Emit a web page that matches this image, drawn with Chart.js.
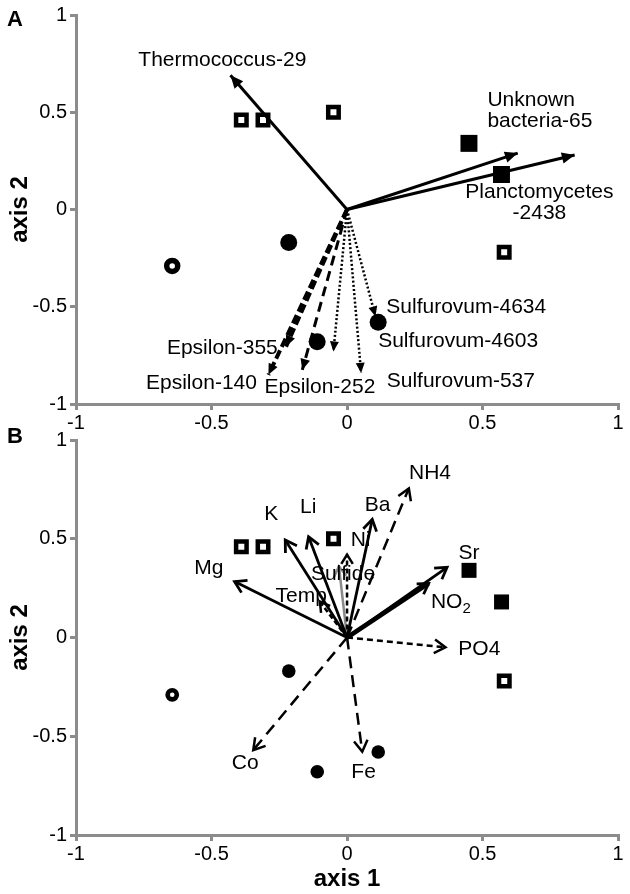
<!DOCTYPE html>
<html>
<head>
<meta charset="utf-8">
<script src="https://cdn.jsdelivr.net/npm/chart.js@4.4.1/dist/chart.umd.min.js"></script>
<style>
    html, body { margin: 0; padding: 0; background: #fff; }
    #wrap { position: relative; width: 630px; height: 894px; overflow: hidden; }
    #chartA { position: absolute; left: 0; top: 0; }
    #chartB { position: absolute; left: 0; top: 425px; }
</style>
</head>
<body>
<div id="wrap">
    <canvas id="chartA" width="630" height="440"></canvas>
    <canvas id="chartB" width="630" height="469"></canvas>
</div>
<script>
// ---- data ----
const axisTicks = [-1, -0.5, 0, 0.5, 1];

// sample scores (same ordination in both panels)
const openSquareX = [-0.39, -0.31, -0.05, 0.58];
const openSquareY = [0.46, 0.46, 0.50, -0.22];
const filledSquareX = [0.45, 0.57];
const filledSquareY = [0.34, 0.18];
const filledCircleX = [-0.215, 0.115, -0.11];
const filledCircleY = [-0.17, -0.58, -0.68];
const openCircleX = [-0.645];
const openCircleY = [-0.29];

// panel A: taxa vectors
const taxaNames = ['Thermococcus-29', 'Unknown\nbacteria-65', 'Planctomycetes\n-2438', 'Epsilon-355', 'Epsilon-140',
    'Epsilon-252', 'Sulfurovum-4634', 'Sulfurovum-4603', 'Sulfurovum-537'];
const taxaX = [-0.43, 0.63, 0.84, -0.225, -0.29, -0.165, 0.105, -0.05, 0.052];
const taxaY = [0.69, 0.29, 0.28, -0.705, -0.85, -0.825, -0.55, -0.73, -0.84];
const taxaLabelX = [-0.46, 0.518, 0.71, -0.46, -0.537, -0.10, 0.44, 0.41, 0.42];
const taxaLabelY = [0.769, 0.506, 0.033, -0.712, -0.892, -0.913, -0.50, -0.676, -0.882];

// panel B: environmental vectors
const envNames = ['Mg', 'K', 'Li', 'Ba', 'NH4', 'Sr', 'NO_2', 'PO4', 'Co', 'Fe', 'Ni', 'Sulfide', 'Temp'];
const envX = [-0.415, -0.228, -0.142, 0.093, 0.228, 0.369, 0.301, 0.363, -0.346, 0.056, 0.0, -0.03, -0.10];
const envY = [0.283, 0.494, 0.51, 0.598, 0.755, 0.355, 0.274, -0.05, -0.57, -0.578, 0.42, 0.36, 0.18];
const envLabelX = [-0.51, -0.28, -0.143, 0.113, 0.306, 0.45, 0.383, 0.488, -0.376, 0.061, 0.05, -0.015, -0.169];
const envLabelY = [0.353, 0.625, 0.662, 0.671, 0.834, 0.429, 0.181, -0.06, -0.637, -0.68, 0.494, 0.322, 0.207];

// ---- styles ----
const axisGray = '#8c8c8c';
const fontFamily = '"Liberation Sans", Arial, sans-serif';
const SOLID = [], DASH = [9, 4], DASH2 = [10, 6], DOT = [2, 2.2], LONG = [12, 7], SHORT = [6, 4];

const taxaStyles = [
    { color: '#000', width: 3, dash: SOLID, head: 'filled', size: 14 },
    { color: '#000', width: 3, dash: SOLID, head: 'filled', size: 14 },
    { color: '#000', width: 3, dash: SOLID, head: 'filled', size: 14 },
    { color: '#000', width: 4, dash: DASH, head: 'filled', size: 12 },
    { color: '#000', width: 4, dash: DASH, head: 'filled', size: 12 },
    { color: '#000', width: 3, dash: DASH2, head: 'filled', size: 12 },
    { color: '#000', width: 2.5, dash: DOT, head: 'filled', size: 11 },
    { color: '#000', width: 2.5, dash: DOT, head: 'filled', size: 11 },
    { color: '#000', width: 2.5, dash: DOT, head: 'filled', size: 11 }
];
const taxaAlign = ['center', 'left', 'center', 'center', 'center', 'center', 'center', 'center', 'center'];

const envStyles = [
    { color: '#000', width: 2.8, dash: SOLID, head: 'open', size: 13 },   // Mg
    { color: '#000', width: 2.8, dash: SOLID, head: 'open', size: 13 },   // K
    { color: '#000', width: 2.8, dash: SOLID, head: 'open', size: 13 },   // Li
    { color: '#000', width: 2.8, dash: SOLID, head: 'open', size: 13 },   // Ba
    { color: '#000', width: 2.5, dash: LONG, head: 'open', size: 13 },    // NH4
    { color: '#000', width: 2.8, dash: SOLID, head: 'open', size: 13 },   // Sr
    { color: '#000', width: 4.5, dash: SOLID, head: 'open', size: 12 },   // NO2
    { color: '#000', width: 2.5, dash: SHORT, head: 'open', size: 13 },   // PO4
    { color: '#000', width: 2.5, dash: LONG, head: 'open', size: 13 },    // Co
    { color: '#000', width: 2.5, dash: LONG, head: 'open', size: 13 },    // Fe
    { color: '#000', width: 2.5, dash: [5, 3], head: 'open', size: 11 },  // Ni
    { color: '#8a8a8a', width: 2.5, dash: SOLID, head: 'open', size: 12 },// Sulfide
    { color: '#000', width: 2.5, dash: [5, 3], head: 'open', size: 11 }   // Temp
];

// ---- helpers ----
function toPoints(xs, ys) {
    return xs.map((x, i) => ({ x: x, y: ys[i] }));
}

function sampleDatasets(big) {
    return [
        { data: toPoints(openSquareX, openSquareY), pointStyle: 'rect', pointRadius: 7.4,
          pointBackgroundColor: '#fff', pointBorderColor: '#000', pointBorderWidth: 4.5 },
        { data: toPoints(filledSquareX, filledSquareY), pointStyle: 'rect', pointRadius: big ? 12 : 10.6,
          pointBackgroundColor: '#000', pointBorderColor: '#000', pointBorderWidth: 0 },
        { data: toPoints(filledCircleX, filledCircleY), pointStyle: 'circle', pointRadius: big ? 8.5 : 6.8,
          pointBackgroundColor: '#000', pointBorderColor: '#000', pointBorderWidth: 0 },
        { data: toPoints(openCircleX, openCircleY), pointStyle: 'circle', pointRadius: big ? 5.5 : 4.6,
          pointBackgroundColor: '#fff', pointBorderColor: '#000', pointBorderWidth: big ? 5.5 : 4.6 }
    ];
}

function arrowDatasets(xs, ys, styles) {
    return xs.map((x, i) => ({
        data: [{ x: 0, y: 0 }, { x: x, y: ys[i] }],
        showLine: true,
        pointRadius: 0,
        pointHoverRadius: 0,
        borderColor: styles[i].color,
        borderWidth: styles[i].width,
        borderDash: styles[i].dash,
        arrowHead: styles[i].head,
        arrowSize: styles[i].size
    }));
}

// arrow heads at the second point of every vector dataset
const arrowPlugin = {
    id: 'arrowPlugin',
    afterDatasetsDraw(chart) {
        const ctx = chart.ctx;
        chart.data.datasets.forEach((ds, i) => {
            if (!ds.arrowHead) return;
            const pts = chart.getDatasetMeta(i).data;
            const a = pts[0], b = pts[1];
            const ang = Math.atan2(b.y - a.y, b.x - a.x);
            const len = ds.arrowSize;
            const spread = ds.arrowHead === 'filled' ? 0.42 : 0.55;
            ctx.save();
            ctx.setLineDash([]);
            ctx.strokeStyle = ds.borderColor;
            ctx.fillStyle = ds.borderColor;
            ctx.lineWidth = Math.min(ds.borderWidth, 2.8);
            ctx.beginPath();
            ctx.moveTo(b.x - len * Math.cos(ang - spread), b.y - len * Math.sin(ang - spread));
            ctx.lineTo(b.x, b.y);
            ctx.lineTo(b.x - len * Math.cos(ang + spread), b.y - len * Math.sin(ang + spread));
            if (ds.arrowHead === 'filled') {
                ctx.closePath();
                ctx.fill();
            } else {
                ctx.stroke();
            }
            ctx.restore();
        });
    }
};

// write a name, "_x" is a subscript
function drawName(ctx, text, x, y, align) {
    const parts = text.split('_');
    if (parts.length === 1) {
        ctx.textAlign = align;
        ctx.fillText(text, x, y);
        return;
    }
    const mainFont = ctx.font;
    const subFont = '15px ' + fontFamily;
    const mainW = ctx.measureText(parts[0]).width;
    ctx.font = subFont;
    const subW = ctx.measureText(parts[1]).width;
    ctx.font = mainFont;
    const start = align === 'center' ? x - (mainW + subW) / 2 : x;
    ctx.textAlign = 'left';
    ctx.fillText(parts[0], start, y);
    ctx.font = subFont;
    ctx.fillText(parts[1], start + mainW, y + 7);
    ctx.font = mainFont;
}

const labelPlugin = {
    id: 'labelPlugin',
    afterDatasetsDraw(chart, args, opts) {
        const ctx = chart.ctx;
        const xs = chart.scales.x, ys = chart.scales.y;
        ctx.save();
        ctx.fillStyle = '#000';
        ctx.textBaseline = 'middle';
        ctx.font = '21px ' + fontFamily;
        opts.names.forEach((name, i) => {
            const lines = name.split('\n');
            const px = xs.getPixelForValue(opts.xs[i]);
            const py = ys.getPixelForValue(opts.ys[i]);
            const lh = 21;
            lines.forEach((line, k) => {
                const ly = py + (k - (lines.length - 1) / 2) * lh;
                drawName(ctx, line, px, ly, opts.align ? opts.align[i] : 'center');
            });
        });
        // panel letter
        ctx.font = 'bold 22px ' + fontFamily;
        ctx.textAlign = 'left';
        ctx.fillText(opts.letter, 7, opts.letterY);
        ctx.restore();
    }
};

function makeOptions(xScaleHeight, showXTitle, labelOpts) {
    const tickFont = { family: fontFamily, size: 20 };
    const titleFont = { family: fontFamily, size: 24, weight: 'bold' };
    const tickText = v => String(v);
    return {
        responsive: false,
        animation: false,
        layout: { padding: { left: 0, right: 10, top: 15, bottom: 0 } },
        plugins: {
            legend: { display: false },
            tooltip: { enabled: false },
            labelPlugin: labelOpts
        },
        scales: {
            x: {
                type: 'linear', min: -1, max: 1,
                afterBuildTicks: s => { s.ticks = axisTicks.map(v => ({ value: v })); },
                afterFit: s => { s.height = xScaleHeight; },
                ticks: { color: '#000', font: tickFont, padding: 1, maxRotation: 0, autoSkip: false, callback: tickText },
                grid: { drawOnChartArea: false, drawTicks: true, tickLength: 6, color: axisGray, lineWidth: 3 },
                border: { display: true, color: axisGray, width: 3 },
                title: { display: showXTitle, text: 'axis 1', color: '#000', font: titleFont, padding: { top: 0, bottom: 0 } }
            },
            y: {
                type: 'linear', min: -1, max: 1,
                afterBuildTicks: s => { s.ticks = axisTicks.map(v => ({ value: v })); },
                afterFit: s => { s.width = 76; },
                ticks: { color: '#000', font: tickFont, padding: 3, autoSkip: false, callback: tickText },
                grid: { drawOnChartArea: false, drawTicks: true, tickLength: 6, color: axisGray, lineWidth: 3 },
                border: { display: true, color: axisGray, width: 3 },
                title: { display: true, text: 'axis 2', color: '#000', font: titleFont, padding: { top: 6, bottom: 0 } }
            }
        }
    };
}

// panel A
new Chart(document.getElementById('chartA'), {
    type: 'scatter',
    data: { datasets: arrowDatasets(taxaX, taxaY, taxaStyles).concat(sampleDatasets(true)) },
    options: makeOptions(36, false, {
        names: taxaNames, xs: taxaLabelX, ys: taxaLabelY, align: taxaAlign, letter: 'A', letterY: 20
    }),
    plugins: [arrowPlugin, labelPlugin]
});

// panel B
new Chart(document.getElementById('chartB'), {
    type: 'scatter',
    data: { datasets: arrowDatasets(envX, envY, envStyles).concat(sampleDatasets(false)) },
    options: makeOptions(59, true, {
        names: envNames, xs: envLabelX, ys: envLabelY, letter: 'B', letterY: 12
    }),
    plugins: [arrowPlugin, labelPlugin]
});
</script>
</body>
</html>
